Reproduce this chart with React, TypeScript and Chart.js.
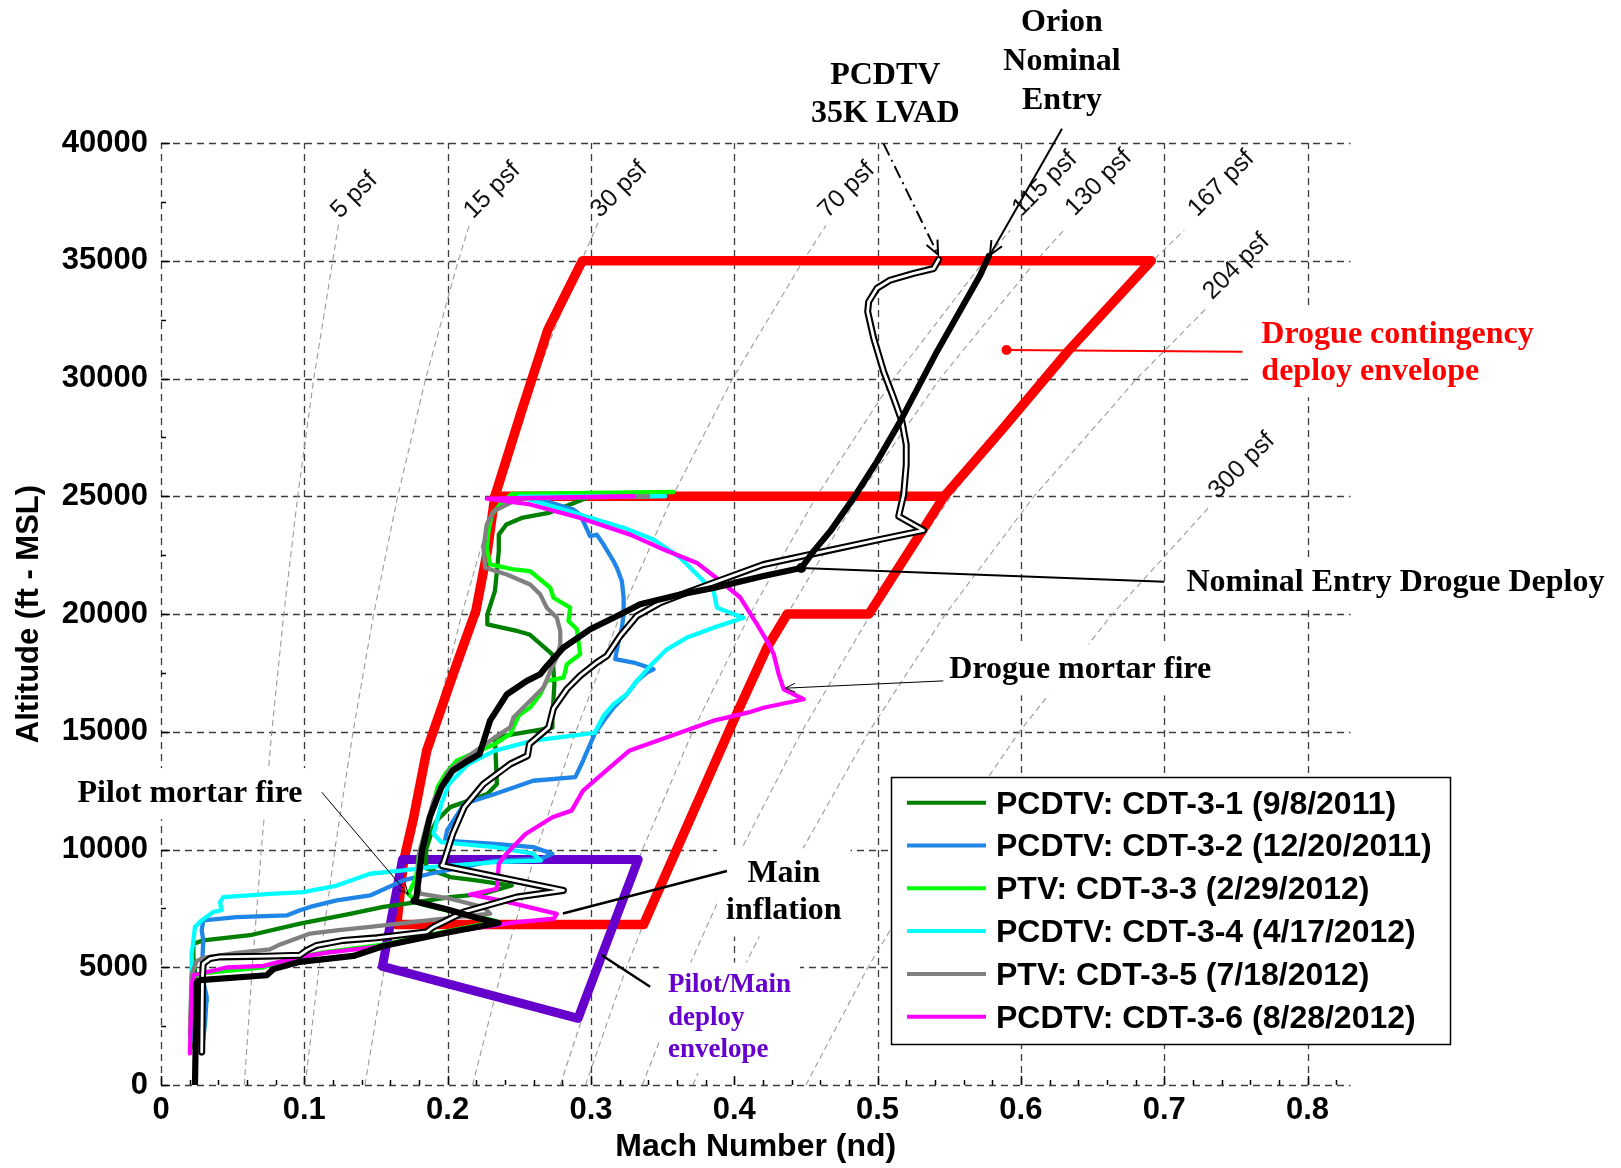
import React, { useEffect, useRef } from "react";
import { Chart, registerables } from "chart.js";

Chart.register(...registerables);

type Pt = [number, number];

const W = 1621;
const H = 1168;
const SANS = '"Liberation Sans", Arial, Helvetica, sans-serif';
const SERIF = '"Liberation Serif", "Times New Roman", serif';

// ---------- axes ----------
const X_MIN = 0;
const X_MAX = 0.83;
const Y_MIN = 0;
const Y_MAX = 40000;
const X_TICKS = [0, 0.1, 0.2, 0.3, 0.4, 0.5, 0.6, 0.7, 0.8];
const X_TICK_LABELS = ["0", "0.1", "0.2", "0.3", "0.4", "0.5", "0.6", "0.7", "0.8"];
const Y_TICKS = [0, 5000, 10000, 15000, 20000, 25000, 30000, 35000, 40000];
const Y_TICK_LABELS = ["0", "5000", "10000", "15000", "20000", "25000", "30000", "35000", "40000"];
const X_TITLE = "Mach Number (nd)";
const Y_TITLE = "Altitude (ft - MSL)";

// ---------- test series ----------
const SERIES_LABELS = [
  "PCDTV: CDT-3-1 (9/8/2011)",
  "PCDTV: CDT-3-2 (12/20/2011)",
  "PTV: CDT-3-3 (2/29/2012)",
  "PCDTV: CDT-3-4 (4/17/2012)",
  "PTV: CDT-3-5 (7/18/2012)",
  "PCDTV: CDT-3-6 (8/28/2012)",
];
const SERIES_COLORS = ["#008000", "#1f86e8", "#00ff00", "#00ffff", "#808080", "#ff00ff"];

const CDT_3_1: Pt[] = [
  [0.3, 25000], [0.2705, 24290], [0.2517, 24080], [0.241, 23800], [0.2357, 23370], [0.2357, 22670],
  [0.2344, 21820], [0.233, 20970], [0.2277, 19980], [0.2277, 19560], [0.2491, 19270], [0.2571, 19130],
  [0.2651, 18710], [0.2731, 18290], [0.2745, 17020], [0.2731, 15610], [0.2731, 15180], [0.233, 14760],
  [0.2344, 12780], [0.2277, 12360], [0.2018, 11800], [0.1924, 11230], [0.19, 10950], [0.185, 10000],
  [0.185, 9200], [0.2018, 8830], [0.2199, 8690], [0.2448, 8470], [0.225, 8120], [0.2018, 7980],
  [0.1785, 7770], [0.1552, 7560], [0.1319, 7270], [0.097, 6850], [0.0621, 6360], [0.0295, 6140],
  [0.0226, 6000], [0.0226, 5440], [0.0249, 4170], [0.0319, 3600], [0.0295, 3320], [0.0226, 1620],
];

const CDT_3_2: Pt[] = [
  [0.25, 25000], [0.2646, 24860], [0.2878, 24430], [0.2925, 24220], [0.2995, 23300], [0.3041, 23370],
  [0.3088, 22950], [0.3158, 22240], [0.3181, 21960], [0.3216, 21390], [0.3228, 20690], [0.3228, 19980],
  [0.3216, 19420], [0.3193, 18850], [0.3169, 18080], [0.3297, 17940], [0.3367, 17800], [0.3437, 17650],
  [0.339, 17510], [0.3321, 17160], [0.3251, 16590], [0.3158, 16030], [0.3106, 15610], [0.3025, 14900],
  [0.2945, 13770], [0.2891, 13070], [0.2597, 12920], [0.233, 12360], [0.2116, 11940], [0.1996, 10810],
  [0.1982, 10380], [0.233, 10240], [0.2597, 10100], [0.2731, 9820], [0.265, 9600], [0.233, 9530],
  [0.1878, 8970], [0.1691, 8690], [0.1459, 8050], [0.1226, 7840], [0.104, 7560], [0.097, 7420],
  [0.0877, 7200], [0.0528, 7130], [0.0295, 6990], [0.0284, 6570], [0.0295, 6140], [0.0284, 4730],
  [0.0319, 3740], [0.0307, 2610], [0.0284, 1340],
];

const CDT_3_3: Pt[] = [
  [0.3576, 25180], [0.2448, 25100], [0.2366, 24645], [0.2308, 24222], [0.2285, 23515], [0.2273, 22809],
  [0.2296, 22103], [0.2459, 21891], [0.2576, 21821], [0.2716, 21115], [0.2739, 20691], [0.2855, 20268],
  [0.2843, 19703], [0.2902, 19350], [0.2925, 18290], [0.2832, 17867], [0.2809, 17302], [0.2692, 17161],
  [0.2646, 16596], [0.2576, 16031], [0.2506, 15748], [0.249, 15608], [0.2437, 14902], [0.233, 14478],
  [0.2223, 14195], [0.2063, 13771], [0.1983, 13206], [0.1929, 12641], [0.1902, 11935], [0.185, 10900],
  [0.18, 9800], [0.178, 8800], [0.1726, 8100], [0.18, 7700], [0.2, 7400], [0.225, 7100], [0.2343, 6950],
  [0.2018, 6560], [0.1552, 5960], [0.1157, 5650], [0.0947, 5420], [0.0714, 5000], [0.03, 4750],
  [0.0214, 4600], [0.0202, 1450],
];

const CDT_3_4: Pt[] = [
  [0.3518, 25000], [0.25, 24980], [0.2599, 24810], [0.2809, 24430], [0.2995, 24080], [0.3228, 23660],
  [0.3437, 23160], [0.3623, 22390], [0.374, 21680], [0.3856, 20970], [0.388, 20270], [0.4065, 19840],
  [0.3856, 19420], [0.367, 19000], [0.353, 18500], [0.3414, 17800], [0.3321, 17160], [0.3251, 16600],
  [0.3158, 16170], [0.3088, 15680], [0.3025, 14950], [0.2597, 14620], [0.233, 14200], [0.2143, 13630],
  [0.2009, 12780], [0.1956, 11940], [0.1902, 10670], [0.1956, 10310], [0.233, 10100], [0.2597, 9820],
  [0.2651, 9530], [0.233, 9460], [0.1878, 9250], [0.1691, 9110], [0.1459, 8970], [0.1226, 8470],
  [0.0993, 8190], [0.076, 8120], [0.0435, 7980], [0.0412, 7770], [0.0423, 7420], [0.0365, 7350],
  [0.0284, 6990], [0.0237, 6710], [0.0226, 6140], [0.0214, 5580], [0.0214, 1900],
];

const CDT_3_5: Pt[] = [
  [0.34, 25000], [0.25, 24900], [0.2413, 24645], [0.232, 24363], [0.2273, 23798], [0.225, 22809],
  [0.2262, 21962], [0.2413, 21680], [0.2576, 21256], [0.2646, 20833], [0.2692, 20268], [0.2762, 19844],
  [0.2786, 19279], [0.2786, 18715], [0.2762, 18150], [0.2727, 17726], [0.2669, 16879], [0.2599, 16455],
  [0.2529, 16031], [0.2459, 15607], [0.2437, 15184], [0.233, 14760], [0.2197, 14195], [0.2009, 13348],
  [0.1902, 12077], [0.1849, 10947], [0.18, 9800], [0.179, 8500], [0.1808, 8130], [0.2018, 7910],
  [0.225, 7556], [0.2297, 7274], [0.1878, 7000], [0.1459, 6710], [0.1226, 6570], [0.104, 6430],
  [0.0831, 5970], [0.076, 5760], [0.0528, 5610], [0.0295, 5400], [0.0249, 5260], [0.0214, 4700],
  [0.0202, 2150],
];

const CDT_3_6: Pt[] = [
  [0.33, 25000], [0.2273, 24900], [0.2576, 24650], [0.2925, 24080], [0.3274, 23370], [0.3507, 22740],
  [0.374, 22170], [0.3903, 21400], [0.4042, 20700], [0.4158, 19570], [0.4228, 18860], [0.4275, 18300],
  [0.431, 17450], [0.4345, 16800], [0.4485, 16380], [0.4204, 16020], [0.41, 15820], [0.385, 15460],
  [0.3399, 14480], [0.3266, 14190], [0.3106, 13350], [0.2945, 12500], [0.2865, 11650], [0.2731, 11370],
  [0.2544, 10660], [0.241, 9820], [0.2357, 9390], [0.235, 8800], [0.2343, 8330], [0.2157, 8090],
  [0.24, 7800], [0.2762, 7270], [0.274, 7060], [0.2483, 6920], [0.2018, 6500], [0.1552, 5900],
  [0.1157, 5620], [0.0947, 5410], [0.0714, 5060], [0.0458, 4990], [0.0226, 4660], [0.0214, 4170],
  [0.0202, 1340],
];

const ORION_NOMINAL: Pt[] = [
  [0.5776, 35200], [0.5717, 34400], [0.5624, 33400], [0.5414, 31140], [0.5158, 28180], [0.4996, 26480],
  [0.4833, 24930], [0.4671, 23520], [0.4554, 22670], [0.4467, 21950], [0.4204, 21610], [0.3856, 21110],
  [0.3623, 20830], [0.3343, 20410], [0.3204, 19980], [0.2995, 19350], [0.2808, 18570], [0.2692, 17790],
  [0.2646, 17440], [0.2553, 17160], [0.2413, 16590], [0.2296, 15470], [0.2223, 14050], [0.2143, 13770],
  [0.2036, 13350], [0.1956, 12640], [0.1876, 11370], [0.1822, 9960], [0.1782, 7980], [0.1762, 7810],
  [0.2, 7450], [0.22, 7100], [0.2355, 6880], [0.2018, 6500], [0.1552, 5900], [0.1343, 5480],
  [0.0968, 5230], [0.0784, 4920], [0.0738, 4660], [0.0272, 4450], [0.0249, 4350], [0.0237, 0],
];

const LVAD_35K: Pt[] = [
  [0.5426, 35050], [0.5391, 34670], [0.5252, 34460], [0.5089, 34180], [0.4996, 33830], [0.4938, 33260],
  [0.4931, 32840], [0.4973, 31710], [0.5042, 30300], [0.5112, 29170], [0.517, 28180], [0.52, 27190],
  [0.52, 26340], [0.5182, 25070], [0.5147, 24150], [0.5321, 23550], [0.5019, 23170], [0.4554, 22560],
  [0.4204, 22100], [0.3856, 21330], [0.367, 20910], [0.3484, 20480], [0.3321, 19920], [0.3204, 19070],
  [0.3111, 18220], [0.3041, 17940], [0.2925, 17380], [0.2832, 16810], [0.2739, 16000], [0.2705, 15180],
  [0.2571, 14480], [0.2557, 13980], [0.2437, 13630], [0.225, 12780], [0.2116, 11800], [0.2036, 10670],
  [0.1969, 9390], [0.1959, 9320], [0.2808, 8260], [0.2482, 7980], [0.211, 7340], [0.1901, 6710],
  [0.1854, 6500], [0.1505, 6250], [0.1273, 6140], [0.1087, 5930], [0.1017, 5720], [0.097, 5510],
  [0.0738, 5470], [0.0412, 5440], [0.0342, 5370], [0.0295, 5150], [0.029, 4700], [0.0284, 1400],
];

// ---------- envelopes ----------
const DROGUE_ENVELOPE: Pt[] = [
  [0.1645, 6810], [0.1692, 9490], [0.1762, 11330], [0.1854, 14200], [0.1902, 15040], [0.2063, 17870],
  [0.2197, 20130], [0.2277, 22670], [0.233, 25000], [0.2515, 28600], [0.27, 32080], [0.294, 35000],
  [0.691, 35000], [0.6326, 31140], [0.5857, 27750], [0.5465, 25000], [0.494, 20000], [0.437, 20000],
  [0.4228, 18570], [0.3995, 15470], [0.3367, 6810], [0.1645, 6810],
];
const DROGUE_MID_LINE: Pt[] = [[0.233, 25000], [0.5465, 25000]];
const PILOT_MAIN_ENVELOPE: Pt[] = [[0.1685, 9580], [0.333, 9580], [0.291, 2830], [0.1545, 5040], [0.1685, 9580]];

// ---------- dynamic pressure lines ----------
const ISOBAR_LABELS = ["5 psf", "15 psf", "30 psf", "70 psf", "115 psf", "130 psf", "167 psf", "204 psf", "300 psf"];
const Q5: Pt[] = [[0.0581, 0], [0.0637, 5000], [0.07, 10000], [0.0773, 15000], [0.0857, 20000], [0.0954, 25000], [0.1066, 30000], [0.1198, 35000], [0.124, 36600]];
const Q15: Pt[] = [[0.1006, 0], [0.1103, 5000], [0.1213, 10000], [0.134, 15000], [0.1484, 20000], [0.1652, 25000], [0.1847, 30000], [0.2074, 35000], [0.2156, 36600]];
const Q30: Pt[] = [[0.1423, 0], [0.156, 5000], [0.1716, 10000], [0.1894, 15000], [0.2099, 20000], [0.2336, 25000], [0.2611, 30000], [0.2934, 35000], [0.3049, 36600]];
const Q70: Pt[] = [[0.2174, 0], [0.2383, 5000], [0.2621, 10000], [0.2894, 15000], [0.3207, 20000], [0.3569, 25000], [0.3989, 30000], [0.4481, 35000], [0.464, 36500]];
const Q115: Pt[] = [[0.2786, 0], [0.3055, 5000], [0.336, 10000], [0.3709, 15000], [0.411, 20000], [0.4574, 25000], [0.5113, 30000], [0.5744, 35000], [0.5926, 36300]];
const Q130: Pt[] = [[0.2962, 0], [0.3248, 5000], [0.3572, 10000], [0.3943, 15000], [0.437, 20000], [0.4863, 25000], [0.5436, 30000], [0.6107, 35000], [0.63, 36300]];
const Q167: Pt[] = [[0.3358, 0], [0.3681, 5000], [0.4049, 10000], [0.447, 15000], [0.4953, 20000], [0.5512, 25000], [0.6162, 30000], [0.6921, 35000], [0.714, 36300]];
const Q204: Pt[] = [[0.3711, 0], [0.4068, 5000], [0.4475, 10000], [0.494, 15000], [0.5474, 20000], [0.6092, 25000], [0.681, 30000], [0.7298, 33000]];
const Q300: Pt[] = [[0.45, 0], [0.4933, 5000], [0.5426, 10000], [0.599, 15000], [0.6639, 20000], [0.7307, 24500]];
const ISOBAR_LABEL_AT: Pt[] = [
  [0.1349, 37780], [0.2311, 37980], [0.3198, 38020], [0.4785, 38000], [0.6168, 38270],
  [0.6543, 38310], [0.7399, 38270], [0.7504, 34750], [0.7542, 26300],
];

// ---------- annotations ----------
const RED = "#ff0000";
const PURPLE = "#6600cc";

type Note = { lines: string[]; at: Pt; align: "left" | "center"; color: string; size: number; lh: number; bg: boolean };
const NOTES: Note[] = [
  { lines: ["PCDTV", "35K LVAD"], at: [0.5054, 42860], align: "center", color: "#000", size: 32, lh: 38, bg: false },
  { lines: ["Orion", "Nominal", "Entry"], at: [0.6287, 45095], align: "center", color: "#000", size: 32, lh: 39, bg: false },
  { lines: ["Drogue contingency", "deploy envelope"], at: [0.7678, 31860], align: "left", color: RED, size: 32, lh: 37, bg: true },
  { lines: ["Nominal Entry Drogue Deploy"], at: [0.7155, 21310], align: "left", color: "#000", size: 32, lh: 37, bg: true },
  { lines: ["Drogue mortar fire"], at: [0.5501, 17630], align: "left", color: "#000", size: 32, lh: 37, bg: true },
  { lines: ["Pilot mortar fire"], at: [-0.0583, 12370], align: "left", color: "#000", size: 32, lh: 37, bg: true },
  { lines: ["Main", "inflation"], at: [0.4346, 8960], align: "center", color: "#000", size: 32, lh: 37, bg: true },
  { lines: ["Pilot/Main", "deploy", "envelope"], at: [0.3538, 4230], align: "left", color: PURPLE, size: 27, lh: 32.5, bg: true },
];

type Leader = { from: Pt; to: Pt; color: string; width: number; head: number; dash: number[] };
const LEADERS: Leader[] = [
  { from: [0.5042, 39970], to: [0.5422, 35260], color: "#000", width: 2, head: 15, dash: [13, 5, 2, 5] },
  { from: [0.6287, 40600], to: [0.5784, 35240], color: "#000", width: 2, head: 15, dash: [] },
  { from: [0.59, 31210], to: [0.7546, 31140], color: RED, width: 2, head: 0, dash: [] },
  { from: [0.4467, 21950], to: [0.7001, 21370], color: "#000", width: 2, head: 0, dash: [] },
  { from: [0.5459, 17160], to: [0.4356, 16850], color: "#000", width: 1, head: 11, dash: [] },
  { from: [0.1122, 12430], to: [0.1726, 8090], color: "#000", width: 1, head: 11, dash: [] },
  { from: [0.3949, 9090], to: [0.2804, 7280], color: "#000", width: 2.5, head: 0, dash: [] },
  { from: [0.3076, 5510], to: [0.3413, 4170], color: "#000", width: 2.5, head: 0, dash: [] },
];
const DOTS: { at: Pt; color: string }[] = [
  { at: [0.59, 31210], color: RED },
  { at: [0.4467, 21950], color: "#000" },
];

// ---------- drawing helpers ----------
function drawGrid(chart: any) {
  const { ctx, scales } = chart;
  const xs = scales.x;
  const ys = scales.y;
  const xl = xs.getPixelForValue(X_MIN);
  const xr = xs.getPixelForValue(X_MAX);
  const yt = ys.getPixelForValue(Y_MAX);
  const yb = ys.getPixelForValue(Y_MIN);
  ctx.save();
  ctx.strokeStyle = "#3c3c3c";
  ctx.lineWidth = 1.3;
  ctx.setLineDash([7, 5]);
  for (const v of X_TICKS) {
    const p = Math.round(xs.getPixelForValue(v)) + 0.5;
    ctx.beginPath();
    ctx.moveTo(p, yb);
    ctx.lineTo(p, yt);
    ctx.stroke();
  }
  for (const v of Y_TICKS) {
    const p = Math.round(ys.getPixelForValue(v)) + 0.5;
    ctx.beginPath();
    ctx.moveTo(xl, p);
    ctx.lineTo(xr, p);
    ctx.stroke();
  }
  ctx.setLineDash([]);
  ctx.strokeStyle = "#000";
  ctx.lineWidth = 1.5;
  for (let i = 0; i * 0.02 <= X_MAX + 1e-9; i++) {
    const p = Math.round(xs.getPixelForValue(i * 0.02)) + 0.5;
    const len = i % 5 === 0 ? 9 : 5;
    ctx.beginPath();
    ctx.moveTo(p, yb);
    ctx.lineTo(p, yb - len);
    ctx.stroke();
  }
  for (let i = 0; i * 2500 <= Y_MAX; i++) {
    const p = Math.round(ys.getPixelForValue(i * 2500)) + 0.5;
    const len = i % 2 === 0 ? 9 : 5;
    ctx.beginPath();
    ctx.moveTo(xl, p);
    ctx.lineTo(xl + len, p);
    ctx.stroke();
  }
  ctx.fillStyle = "#111";
  ctx.font = `25px ${SANS}`;
  ctx.textAlign = "center";
  ctx.textBaseline = "middle";
  ISOBAR_LABELS.forEach((t, i) => {
    const [mx, al] = ISOBAR_LABEL_AT[i];
    ctx.save();
    ctx.translate(xs.getPixelForValue(mx), ys.getPixelForValue(al));
    ctx.rotate(-Math.PI / 4);
    ctx.fillText(t, 0, 0);
    ctx.restore();
  });
  ctx.restore();
}

function drawArrow(ctx: any, x1: number, y1: number, x2: number, y2: number, l: Leader) {
  ctx.save();
  ctx.strokeStyle = l.color;
  ctx.lineWidth = l.width;
  ctx.setLineDash(l.dash);
  ctx.beginPath();
  ctx.moveTo(x1, y1);
  ctx.lineTo(x2, y2);
  ctx.stroke();
  ctx.setLineDash([]);
  if (l.head > 0) {
    const a = Math.atan2(y2 - y1, x2 - x1);
    const s = 0.42;
    ctx.beginPath();
    ctx.moveTo(x2 - l.head * Math.cos(a - s), y2 - l.head * Math.sin(a - s));
    ctx.lineTo(x2, y2);
    ctx.lineTo(x2 - l.head * Math.cos(a + s), y2 - l.head * Math.sin(a + s));
    ctx.stroke();
  }
  ctx.restore();
}

function drawAnnotations(chart: any) {
  const { ctx, scales } = chart;
  const xs = scales.x;
  const ys = scales.y;
  ctx.save();
  for (const n of NOTES) {
    if (!n.bg) continue;
    ctx.font = `bold ${n.size}px ${SERIF}`;
    const ax = xs.getPixelForValue(n.at[0]);
    const ay = ys.getPixelForValue(n.at[1]);
    const maxW = Math.max(...n.lines.map((l) => ctx.measureText(l).width));
    const left = n.align === "center" ? ax - maxW / 2 : ax;
    const top = ay - n.size * 0.55;
    const bottom = ay + (n.lines.length - 1) * n.lh + n.size * 0.55;
    ctx.fillStyle = "#fff";
    ctx.fillRect(left - 9, top - 8, maxW + 18, bottom - top + 16);
  }
  for (const l of LEADERS) {
    drawArrow(
      ctx,
      xs.getPixelForValue(l.from[0]),
      ys.getPixelForValue(l.from[1]),
      xs.getPixelForValue(l.to[0]),
      ys.getPixelForValue(l.to[1]),
      l
    );
  }
  for (const d of DOTS) {
    ctx.fillStyle = d.color;
    ctx.beginPath();
    ctx.arc(xs.getPixelForValue(d.at[0]), ys.getPixelForValue(d.at[1]), 5, 0, Math.PI * 2);
    ctx.fill();
  }
  for (const n of NOTES) {
    ctx.font = `bold ${n.size}px ${SERIF}`;
    ctx.fillStyle = n.color;
    ctx.textAlign = n.align;
    ctx.textBaseline = "middle";
    const ax = xs.getPixelForValue(n.at[0]);
    const ay = ys.getPixelForValue(n.at[1]);
    n.lines.forEach((t, i) => ctx.fillText(t, ax, ay + i * n.lh));
  }
  // legend
  const box = { left: 891, top: 777, right: 1450, bottom: 1044 };
  ctx.fillStyle = "#fff";
  ctx.fillRect(box.left, box.top, box.right - box.left, box.bottom - box.top);
  ctx.strokeStyle = "#000";
  ctx.lineWidth = 1.5;
  ctx.strokeRect(box.left + 0.5, box.top + 0.5, box.right - box.left, box.bottom - box.top);
  ctx.font = `bold 32px ${SANS}`;
  ctx.textAlign = "left";
  ctx.textBaseline = "middle";
  SERIES_LABELS.forEach((t, i) => {
    const yy = 802.7 + i * 42.8;
    ctx.strokeStyle = SERIES_COLORS[i];
    ctx.lineWidth = 4;
    ctx.beginPath();
    ctx.moveTo(907, yy);
    ctx.lineTo(986, yy);
    ctx.stroke();
    ctx.fillStyle = "#000";
    ctx.fillText(t, 996, yy + 2);
  });
  ctx.restore();
}

const overlayPlugin = {
  id: "overlay",
  beforeDatasetsDraw(chart: any) {
    drawGrid(chart);
  },
  afterDraw(chart: any) {
    drawAnnotations(chart);
  },
};

function ds(data: Pt[], color: string, width: number, extra: any = {}) {
  return {
    data: data.map(([x, y]) => ({ x, y })),
    borderColor: color,
    backgroundColor: color,
    borderWidth: width,
    pointRadius: 0,
    pointHoverRadius: 0,
    fill: false,
    tension: 0,
    borderJoinStyle: "round",
    borderCapStyle: "round",
    ...extra,
  };
}

export default function App() {
  const ref = useRef<HTMLCanvasElement>(null);
  useEffect(() => {
    const canvas = ref.current;
    if (!canvas) return;
    const isobars = [Q5, Q15, Q30, Q70, Q115, Q130, Q167, Q204, Q300];
    const traces = [CDT_3_1, CDT_3_2, CDT_3_3, CDT_3_4, CDT_3_5, CDT_3_6];
    const bottomToTop = [
      ...isobars.map((q) => ds(q, "#9a9a9a", 1.1, { borderDash: [6, 4], borderCapStyle: "butt" })),
      ds(DROGUE_ENVELOPE, RED, 9.5),
      ds(DROGUE_MID_LINE, RED, 9.5),
      ds(PILOT_MAIN_ENVELOPE, PURPLE, 9),
      ...traces.map((t, i) => ds(t, SERIES_COLORS[i], 4.3)),
      ds(LVAD_35K, "#000", 7),
      ds(LVAD_35K, "#fff", 2.8),
      ds(ORION_NOMINAL, "#000", 6.2),
    ];
    const datasets = bottomToTop.reverse();
    const tickFont = { family: SANS, size: 31, weight: "bold" as const, lineHeight: 1 };
    const chart = new Chart(canvas, {
      type: "line",
      data: { datasets: datasets as any },
      plugins: [overlayPlugin],
      options: {
        responsive: false,
        animation: false,
        devicePixelRatio: 1,
        layout: { padding: { left: 0, right: W - 1350.5, top: 143, bottom: 0 } },
        plugins: { legend: { display: false }, tooltip: { enabled: false }, title: { display: false } },
        elements: { point: { radius: 0 } },
        scales: {
          x: {
            type: "linear",
            position: "bottom",
            min: X_MIN,
            max: X_MAX,
            afterFit: (s: any) => {
              s.height = 83;
            },
            afterBuildTicks: (s: any) => {
              s.ticks = X_TICKS.map((v) => ({ value: v }));
            },
            ticks: {
              callback: (_v: any, i: number) => X_TICK_LABELS[i],
              font: tickFont,
              color: "#000",
              padding: 10,
              maxRotation: 0,
              autoSkip: false,
            },
            grid: { display: false, drawTicks: false },
            border: { display: false },
            title: {
              display: true,
              text: X_TITLE,
              color: "#000",
              font: { family: SANS, size: 32, weight: "bold", lineHeight: 1 },
              padding: { top: 0, bottom: 5 },
            },
          },
          y: {
            type: "linear",
            position: "left",
            min: Y_MIN,
            max: Y_MAX,
            afterFit: (s: any) => {
              s.width = 161;
            },
            afterBuildTicks: (s: any) => {
              s.ticks = Y_TICKS.map((v) => ({ value: v }));
            },
            ticks: {
              callback: (_v: any, i: number) => Y_TICK_LABELS[i],
              font: tickFont,
              color: "#000",
              padding: 13,
              autoSkip: false,
            },
            grid: { display: false, drawTicks: false },
            border: { display: false },
            title: {
              display: true,
              text: Y_TITLE,
              color: "#000",
              font: { family: SANS, size: 31, weight: "bold", lineHeight: 1 },
              padding: { top: 14, bottom: 0 },
            },
          },
        },
      } as any,
    });
    return () => chart.destroy();
  }, []);
  return (
    <div style={{ position: "absolute", left: 0, top: 0, width: W, height: H, background: "#fff" }}>
      <canvas ref={ref} width={W} height={H} style={{ display: "block", width: W, height: H }} />
    </div>
  );
}
